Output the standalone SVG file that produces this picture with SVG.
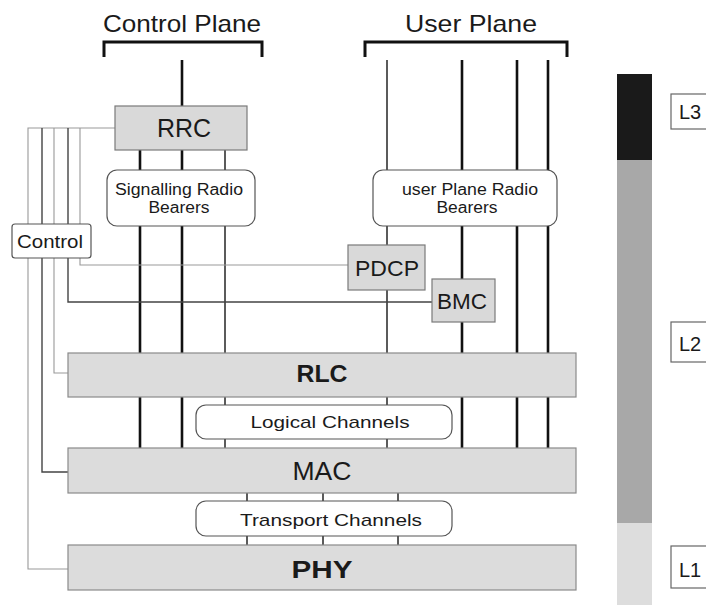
<svg xmlns="http://www.w3.org/2000/svg" width="706" height="605" viewBox="0 0 706 605">
<style>
text{font-family:"Liberation Sans",Arial,sans-serif;fill:#1a1a1a}
.layer{fill:#dcdcdc;stroke:#8a8a8a;stroke-width:1.2}
.ent{fill:#d9d9d9;stroke:#7a7a7a;stroke-width:1.2}
.rb{fill:#fff;stroke:#555;stroke-width:1.2}
.thick{stroke:#111;stroke-width:2.6;fill:none}
.thin{stroke:#333;stroke-width:1.6;fill:none}
.ctlL{stroke:#999;stroke-width:1.1;fill:none}
.ctlD{stroke:#444;stroke-width:1.4;fill:none}
.br{stroke:#111;stroke-width:3;fill:none}
.lbl{fill:#fff;stroke:#666;stroke-width:1.2}
</style>
<rect width="706" height="605" fill="#fff"/>
<g id="headers">
<text x="182" y="32" font-size="24" text-anchor="middle" textLength="158" lengthAdjust="spacingAndGlyphs">Control Plane</text>
<text x="471" y="32" font-size="24" text-anchor="middle" textLength="132" lengthAdjust="spacingAndGlyphs">User Plane</text>
<path class="br" d="M104,57 V42 H262 V57"/>
<path class="br" d="M365,57 V42 H567 V57"/>
</g>
<g id="connectors">
<path class="thick" d="M182,60 V106"/>
<path class="thick" d="M140,150 V170 M140,226 V353 M140,397 V448"/>
<path class="thick" d="M182,150 V170 M182,226 V353 M182,397 V448"/>
<path class="thin" d="M225,150 V170 M225,226 V353 M225,397 V405 M225,439 V448"/>
<path class="thin" d="M387,60 V170 M387,226 V245 M387,290 V353 M387,397 V405 M387,439 V448"/>
<path class="thick" d="M462,60 V170 M462,226 V279 M462,322 V353 M462,397 V448"/>
<path class="thick" d="M517,60 V170 M517,226 V353 M517,397 V448"/>
<path class="thick" d="M548,60 V170 M548,226 V353 M548,397 V448"/>
<path class="thin" d="M247,493 V501 M247,536 V545 M323,493 V501 M323,536 V545 M398,493 V501 M398,536 V545"/>
<path class="ctlL" d="M115,128 H28 V569 H68"/>
<path class="ctlD" d="M42,128 V472 H68"/>
<path class="ctlL" d="M54,128 V373 H68"/>
<path class="ctlD" d="M68,128 V302 H432"/>
<path class="ctlL" d="M80,128 V265 H348"/>
</g>
<g id="rrc">
<rect class="ent" x="115" y="106" width="132" height="44"/>
<text x="184" y="137" font-size="25" text-anchor="middle">RRC</text>
</g>
<g id="srb">
<rect class="rb" x="107" y="170" width="148" height="56" rx="10"/>
<text x="179" y="195" font-size="16" text-anchor="middle" textLength="128" lengthAdjust="spacingAndGlyphs">Signalling Radio</text>
<text x="179" y="213" font-size="16" text-anchor="middle" textLength="61" lengthAdjust="spacingAndGlyphs">Bearers</text>
</g>
<g id="uprb">
<rect class="rb" x="373" y="170" width="184" height="56" rx="10"/>
<text x="470" y="195" font-size="16" text-anchor="middle" textLength="136" lengthAdjust="spacingAndGlyphs">user Plane Radio</text>
<text x="467" y="213" font-size="16" text-anchor="middle" textLength="61" lengthAdjust="spacingAndGlyphs">Bearers</text>
</g>
<g id="control">
<rect class="rb" x="12" y="224" width="79" height="34" rx="3"/>
<text x="50" y="248" font-size="19" text-anchor="middle" textLength="66" lengthAdjust="spacingAndGlyphs">Control</text>
</g>
<g id="pdcp">
<rect class="ent" x="348" y="245" width="77" height="45"/>
<text x="387" y="276" font-size="22" text-anchor="middle" textLength="64" lengthAdjust="spacingAndGlyphs">PDCP</text>
</g>
<g id="bmc">
<rect class="ent" x="432" y="279" width="63" height="43"/>
<text x="462" y="309" font-size="22" text-anchor="middle" textLength="50" lengthAdjust="spacingAndGlyphs">BMC</text>
</g>
<g id="rlc">
<rect class="layer" x="68" y="353" width="508" height="44"/>
<text x="322" y="382" font-size="24" font-weight="bold" text-anchor="middle" textLength="51" lengthAdjust="spacingAndGlyphs">RLC</text>
</g>
<g id="logical">
<rect class="rb" x="196" y="405" width="256" height="34" rx="10"/>
<text x="330" y="428" font-size="17" text-anchor="middle" textLength="159" lengthAdjust="spacingAndGlyphs">Logical Channels</text>
</g>
<g id="mac">
<rect class="layer" x="68" y="448" width="508" height="45"/>
<text x="322" y="480" font-size="25" text-anchor="middle" textLength="59" lengthAdjust="spacingAndGlyphs">MAC</text>
</g>
<g id="transport">
<rect class="rb" x="196" y="501" width="256" height="35" rx="10"/>
<text x="331" y="526" font-size="17" text-anchor="middle" textLength="182" lengthAdjust="spacingAndGlyphs">Transport Channels</text>
</g>
<g id="phy">
<rect class="layer" x="68" y="545" width="508" height="45"/>
<text x="322" y="578" font-size="24" font-weight="bold" text-anchor="middle" textLength="61" lengthAdjust="spacingAndGlyphs">PHY</text>
</g>
<g id="layerbar">
<rect x="617" y="74" width="35" height="86" fill="#1a1a1a"/>
<rect x="617" y="160" width="35" height="363" fill="#a8a8a8"/>
<rect x="617" y="523" width="35" height="82" fill="#dddddd"/>
</g>
<g id="l3">
<rect class="lbl" x="671" y="94" width="45" height="35"/>
<text x="679" y="119" font-size="20">L3</text>
</g>
<g id="l2">
<rect class="lbl" x="671" y="322" width="45" height="40"/>
<text x="679" y="351" font-size="20">L2</text>
</g>
<g id="l1">
<rect class="lbl" x="671" y="546" width="45" height="42"/>
<text x="679" y="577" font-size="20">L1</text>
</g>
</svg>
